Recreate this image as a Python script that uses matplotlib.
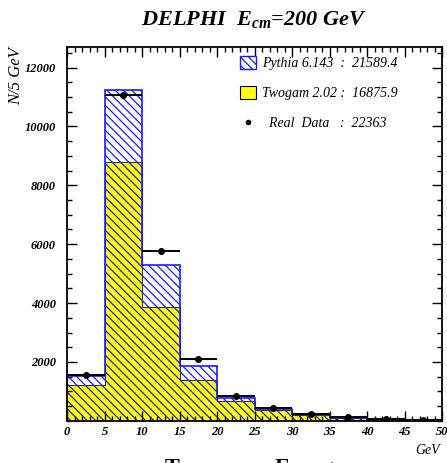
import numpy as np
import matplotlib
matplotlib.use('Agg')
import matplotlib.pyplot as plt
from matplotlib.patches import Patch
from matplotlib.lines import Line2D

# bin edges in GeV (5 GeV bins)
bin_edges = [0, 5, 10, 15, 20, 25, 30, 35, 40, 45, 50]

# Monte Carlo predictions per bin
pythia = [1524, 11228, 5300, 1864, 765, 401, 231, 100, 40, 15]
twogam = [1218, 8790, 3880, 1388, 673, 367, 197, 85, 30, 10]

# measured events per bin
data = [1547, 11071, 5786, 2092, 854, 425, 221, 119, 45, 20]

pythia_label = 'Pythia 6.143  :  21589.4'
twogam_label = 'Twogam 2.02 :  16875.9'
data_label = '  Real  Data   :  22363'

plt.rcParams['font.family'] = 'Liberation Serif'
plt.rcParams['mathtext.fontset'] = 'custom'
plt.rcParams['mathtext.it'] = 'Liberation Serif:bold:italic'
plt.rcParams['mathtext.rm'] = 'Liberation Serif:bold:italic'
plt.rcParams['hatch.linewidth'] = 0.9

fig = plt.figure(figsize=(4.47, 4.63), dpi=100)
ax = fig.add_axes([0.150, 0.0911, 0.839, 0.8074])

edges = np.array(bin_edges)
centers = 0.5 * (edges[:-1] + edges[1:])
half = 0.5 * np.diff(edges)

# yellow Twogam histogram underneath, Pythia hatch drawn over it
ax.stairs(twogam, edges, fill=True, facecolor='#ffff00', edgecolor='#333333',
          linewidth=0.8, zorder=1)
ax.stairs(pythia, edges, fill=True, facecolor='none', edgecolor='#1a1aff',
          hatch='\\\\\\\\', linewidth=1.2, zorder=2)
ax.errorbar(centers, data, xerr=half, fmt='o', color='black', markersize=4,
            elinewidth=1.4, capsize=0, zorder=3)

ax.set_xlim(0, 50)
ax.set_ylim(0, 12700)
ax.set_xticks(np.arange(0, 51, 5))
ax.set_xticks(np.arange(0, 51, 1), minor=True)
ax.set_yticks(np.arange(2000, 12001, 2000))
ax.set_yticks(np.arange(0, 12701, 500), minor=True)
ax.tick_params(which='both', direction='in', top=True, right=True, width=1.0)
ax.tick_params(which='major', length=7)
ax.tick_params(which='minor', length=3.5)
ax.tick_params(axis='y', pad=8)
ax.tick_params(axis='x', pad=4)
for lab in ax.get_xticklabels() + ax.get_yticklabels():
    lab.set_fontsize(9)
    lab.set_fontweight('bold')
    lab.set_fontstyle('italic')
for sp in ax.spines.values():
    sp.set_linewidth(1.3)

handles = [
    Patch(facecolor='white', edgecolor='#1a1aff', hatch='\\\\\\\\', linewidth=1.0),
    Patch(facecolor='#ffff00', edgecolor='black', linewidth=0.8),
    Line2D([], [], marker='o', color='black', linestyle='none', markersize=3),
]
leg = ax.legend(handles, [pythia_label, twogam_label, data_label],
                loc='upper left', bbox_to_anchor=(0.447, 0.99), frameon=False,
                prop={'style': 'italic', 'size': 10}, handlelength=1.1,
                handleheight=1.0, handletextpad=0.5, labelspacing=1.15,
                borderaxespad=0.0)

fig.text(0.568, 0.958, 'DELPHI  $E_{cm}$=200 GeV', ha='center', va='center',
         fontsize=16, fontweight='bold', fontstyle='italic')
fig.text(0.036, 1 - 47 / 463, 'N/5 GeV', rotation=90, ha='center', va='top',
         fontsize=12, fontstyle='italic')
fig.text(0.985, 1 - 451 / 463, 'GeV', ha='right', va='center',
         fontsize=10, fontstyle='italic')
fig.text(0.571, 1 - 458 / 463, 'Transverse Energy', ha='center', va='top',
         fontsize=16, fontweight='bold')

fig.savefig('out.png', dpi=100)
